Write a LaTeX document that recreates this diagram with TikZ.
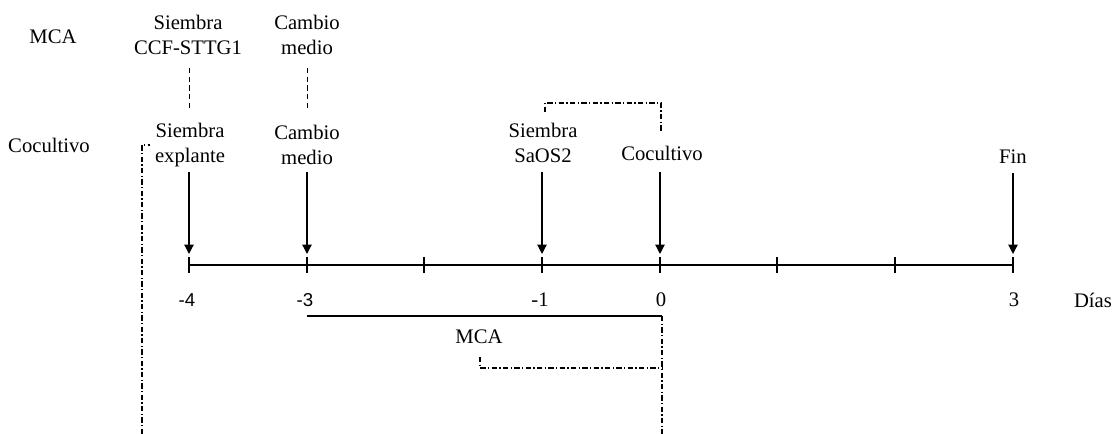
\documentclass[tikz,border=0pt]{standalone}
\usepackage{fontspec}
\setmainfont{Liberation Serif}
\newfontfamily\numsans{Liberation Sans}
\usetikzlibrary{arrows.meta}
\begin{document}
\begin{tikzpicture}[x=0.75pt,y=-0.75pt,
  txt/.style={inner sep=0pt,align=center,font=\fontsize{15.5}{18.75}\selectfont},
  arr/.style={line width=0.9pt,-{Triangle[length=7pt,width=7pt]}},
  axisline/.style={line width=1.6pt},
  tickmark/.style={line width=1.2pt},
  dashln/.style={line width=0.7pt,dash pattern=on 4pt off 2.5pt},
  dashdot/.style={line width=0.8pt,dash pattern=on 4pt off 1.8pt on 0.9pt off 1.8pt},
  barln/.style={line width=1pt}]
\useasboundingbox (0,0) rectangle (1120,434);
% row labels
\node[txt] (lmca) at (53,37) {MCA};
\node[txt] (lcoc) at (49,145) {Cocultivo};
% top row (MCA)
\node[txt] (sccf) at (188,35) {Siembra\\CCF-STTG1};
\node[txt] (cm1) at (307,35) {Cambio\\medio};
% second row (Cocultivo)
\node[txt] (sexp) at (190,145) {Siembra\\explante};
\node[txt] (cm2) at (307,145) {Cambio\\medio};
\node[txt] (ssao) at (543,143) {Siembra\\SaOS2};
\node[txt] (coc) at (662,153) {Cocultivo};
\node[txt] (fin) at (1013,157) {Fin};
% dashed links between rows
\coordinate (d1a) at (189,68); \coordinate (d1b) at (189,110);
\coordinate (d2a) at (307,68); \coordinate (d2b) at (307,110);
\draw[dashln] (d1a) -- (d1b);
\draw[dashln] (d2a) -- (d2b);
% axis
\foreach \n/\x in {1/189,2/307,3/424,4/542,5/660,6/777,7/895,8/1013}{
  \coordinate (t\n) at (\x,265);
  \coordinate (tt\n) at (\x,254);
  \draw[tickmark] (\x,257) -- (\x,273);
}
\draw[axisline] (t1) -- (t8);
% arrows
\coordinate (a1) at (189,172);
\coordinate (a2) at (307,172);
\coordinate (a4) at (542,172);
\coordinate (a5) at (660,172);
\coordinate (a8) at (1013,173);
\draw[arr] (a1) -- (tt1);
\draw[arr] (a2) -- (tt2);
\draw[arr] (a4) -- (tt4);
\draw[arr] (a5) -- (tt5);
\draw[arr] (a8) -- (tt8);
% axis labels
\node[txt,font=\numsans\fontsize{14}{16}\selectfont] (n4) at (187,300) {-4};
\node[txt,font=\numsans\fontsize{14}{16}\selectfont] (n3) at (305,300) {-3};
\node[txt] (n1) at (540,300) {-1};
\node[txt] (n0) at (661,300) {0};
\node[txt] (n3p) at (1014,300) {3};
\node[txt] (dias) at (1093,300) {Días};
% MCA bar
\coordinate (b1) at (307,316);
\coordinate (b2) at (662,316);
\draw[barln] (b1) -- (b2);
\node[txt] (mcab) at (479,337) {MCA};
% dash-dot brackets
\coordinate (r1) at (545,112); \coordinate (r2) at (545,103);
\coordinate (r3) at (661,103); \coordinate (r4) at (661,132);
\draw[dashdot] (r1) -- (r2) -- (r3) -- (r4);
\coordinate (q1) at (480,357); \coordinate (q2) at (480,368);
\coordinate (q3) at (662,368);
\draw[dashdot] (q1) -- (q2) -- (q3);
\coordinate (q4) at (662,434);
\draw[dashdot] (b2) -- (q4);
\coordinate (l1) at (142,434); \coordinate (l2) at (142,145);
\coordinate (l3) at (150,145);
\draw[dashdot] (l1) -- (l2) -- (l3);
\end{tikzpicture}
\end{document}
